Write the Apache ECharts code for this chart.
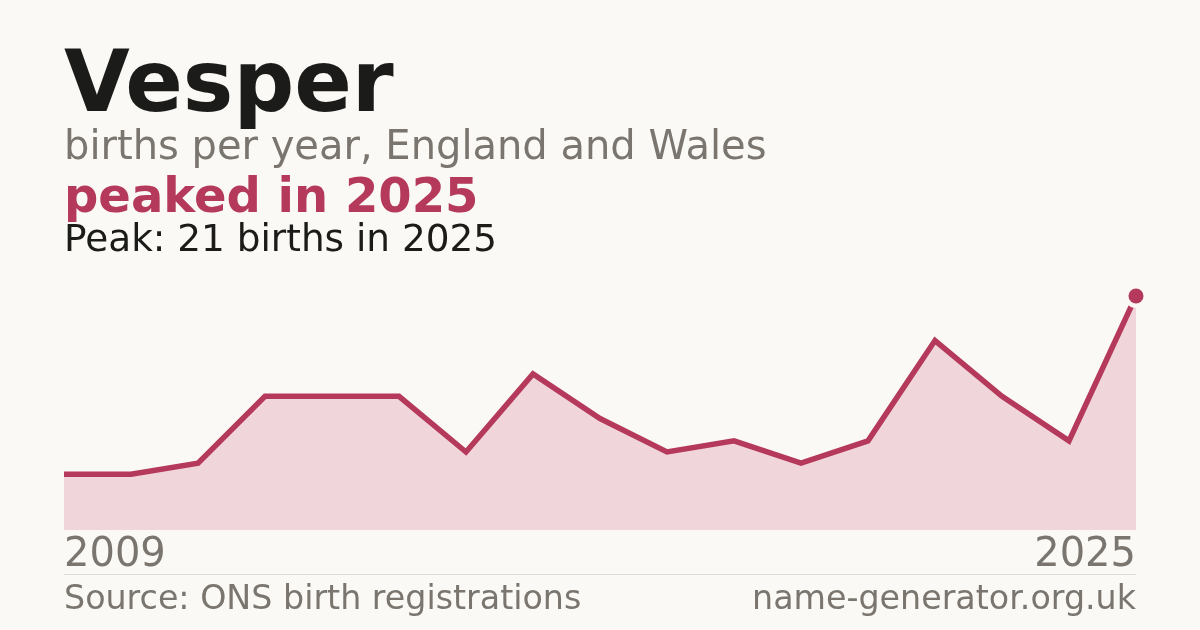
<!DOCTYPE html>
<html>
<head>
<meta charset="utf-8">
<script src="https://cdn.jsdelivr.net/npm/echarts@6/dist/echarts.min.js"></script>
<style>
html,body{margin:0;padding:0;background:#faf9f5;}
#c{width:1200px;height:630px;}
</style>
</head>
<body>
<div id="c"></div>
<script>
var years = ['2009','2010','2011','2012','2013','2014','2015','2016','2017','2018','2019','2020','2021','2022','2023','2024','2025'];
var births = [5,5,6,12,12,12,7,14,10,7,8,6,8,17,12,8,21];
var peakYear = '2025';
var peakValue = 21;
var tickLabels = ['2009','2025'];

var BG = '#faf9f5';
var ACCENT = '#b5395a';
var GRAY = '#7a766f';
var FONT = 'DejaVu Sans';

var chart = echarts.init(document.getElementById('c'), null, {renderer:'canvas'});
chart.setOption({
  backgroundColor: BG,
  animation: false,
  grid: {left:64, right:64, top:296, bottom:100, containLabel:false},
  xAxis: {
    type:'category', data: years, boundaryGap:false,
    axisLine:{show:false}, axisTick:{show:false}, splitLine:{show:false},
    axisLabel:{
      interval: function(i, v){ return tickLabels.indexOf(v) >= 0; },
      color: GRAY, fontFamily: FONT, fontSize: 40, margin: 6,
      alignMinLabel:'left', alignMaxLabel:'right'
    }
  },
  yAxis: {type:'value', min:0, max:21, show:false},
  series: [
    {
      type:'line', data: births, symbol:'none', smooth:false,
      lineStyle:{color:ACCENT, width:5.5, join:'miter', opacity:1},
      areaStyle:{color:'#f0d5da', opacity:1},
      z:2
    },
    {
      type:'scatter', data:[[peakYear, peakValue]], symbolSize:24,
      itemStyle:{color:BG, opacity:1}, z:3
    },
    {
      type:'scatter', data:[[peakYear, peakValue]], symbolSize:15,
      itemStyle:{color:ACCENT, opacity:1}, z:4
    }
  ],
  graphic: [
    {type:'text', left:64, top:46, style:{text:'Vesper', fill:'#1b1b19', font:'bold 85px "DejaVu Sans"'}},
    {type:'text', left:64, top:129, style:{text:'births per year, England and Wales', fill:GRAY, font:'40px "DejaVu Sans"'}},
    {type:'text', left:64, top:176, style:{text:'peaked in 2025', fill:ACCENT, font:'bold 48px "DejaVu Sans"'}},
    {type:'text', left:64, top:223, style:{text:'Peak: 21 births in 2025', fill:'#1b1b19', font:'37.4px "DejaVu Sans"'}},
    {type:'line', shape:{x1:64, y1:574.5, x2:1136, y2:574.5}, style:{stroke:'#e0ddd6', lineWidth:1}},
    {type:'text', left:64, top:584, style:{text:'Source: ONS birth registrations', fill:GRAY, font:'33.3px "DejaVu Sans"'}},
    {type:'text', right:64, top:584, style:{text:'name-generator.org.uk', fill:GRAY, font:'33.3px "DejaVu Sans"'}}
  ]
});
</script>
</body>
</html>
